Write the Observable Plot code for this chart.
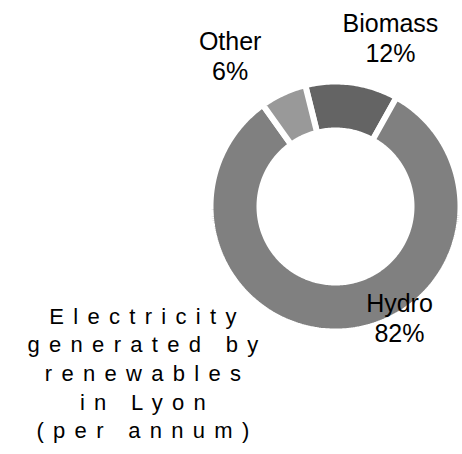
<!DOCTYPE html>
<html><head><meta charset="utf-8">
<script src="https://cdn.jsdelivr.net/npm/d3@7"></script>
<script src="https://cdn.jsdelivr.net/npm/@observablehq/plot@0.6"></script>
<style>html,body{margin:0;padding:0;background:#fff}</style>
</head><body><div id="chart"></div>
<script>
// ---- data ----
const categories = ["Biomass", "Hydro", "Other"];
const shares = [12, 82, 6];
const shareLabels = ["12%", "82%", "6%"];
const titleLines = ["Electricity", "generated by", "renewables", "in Lyon", "(per annum)"];
const colors = ["#646464", "#808080", "#999999"];

// ---- layout ----
const startDeg = -14;
const innerRatio = 0.608;
const labelLayout = {
  Biomass: {angle: 18.3, r: 1.40},
  Hydro: {angle: 150.7, r: 1.046},
  Other: {angle: -35.4, r: 1.455}
};

const total = d3.sum(shares);
let acc = 0;
const polys = [];
categories.forEach((c, i) => {
  const a0 = startDeg + acc / total * 360;
  acc += shares[i];
  const a1 = startDeg + acc / total * 360;
  const n = Math.max(8, Math.ceil(a1 - a0));
  const pts = [];
  for (let k = 0; k <= n; k++) {
    const a = (a0 + (a1 - a0) * k / n) * Math.PI / 180;
    pts.push({cat: c, x: Math.sin(a), y: Math.cos(a)});
  }
  for (let k = n; k >= 0; k--) {
    const a = (a0 + (a1 - a0) * k / n) * Math.PI / 180;
    pts.push({cat: c, x: innerRatio * Math.sin(a), y: innerRatio * Math.cos(a)});
  }
  pts.push({...pts[0]});
  polys.push(...pts);
});

const labels = categories.map((c, i) => {
  const L = labelLayout[c];
  const a = L.angle * Math.PI / 180;
  return {cat: c, text: `${c}\n${shareLabels[i]}`, x: L.r * Math.sin(a), y: L.r * Math.cos(a)};
});

const svg = Plot.plot({
  width: 462,
  height: 454,
  margin: 0,
  x: {domain: [-1, 1], range: [210, 460], axis: null},
  y: {domain: [-1, 1], range: [331, 81], axis: null},
  color: {domain: categories, range: colors},
  style: {fontFamily: "'Liberation Sans', Arial, sans-serif", background: "#fff", color: "#000"},
  marks: [
    Plot.line(polys, {x: "x", y: "y", z: "cat", fill: "cat", stroke: "white", strokeWidth: 6, strokeLinejoin: "miter", curve: "linear"}),
    Plot.text(labels, {x: "x", y: "y", dy: -3, text: "text", fontSize: 25, lineHeight: 1.2, lineAnchor: "middle", textAnchor: "middle", fill: "#000"}),
    Plot.text([titleLines.join("\n")], {frameAnchor: "top-left", dx: 147, dy: 303, text: d => d, textAnchor: "middle", lineAnchor: "top", lineHeight: 1.3, fontSize: 22, fill: "#000"})
  ]
});
d3.select(svg).selectAll("text").filter(function() { return this.textContent.includes("Electricity"); }).style("letter-spacing", "9.3px");
document.getElementById("chart").appendChild(svg);
</script>
</body></html>
